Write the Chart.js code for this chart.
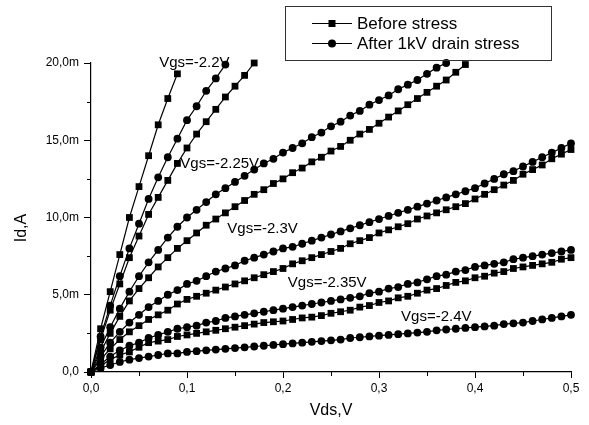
<!DOCTYPE html>
<html>
<head>
<meta charset="utf-8">
<script src="https://cdn.jsdelivr.net/npm/chart.js@4.4.0/dist/chart.umd.min.js"></script>
<style>
  html, body { margin: 0; padding: 0; background: #fff; }
</style>
</head>
<body>
<canvas id="chart" width="589" height="425"></canvas>
<script>
// drain voltage steps, V
const vds = [0, 0.01, 0.02, 0.03, 0.04, 0.05, 0.06, 0.07, 0.08, 0.09,
  0.10, 0.11, 0.12, 0.13, 0.14, 0.15, 0.16, 0.17, 0.18, 0.19,
  0.20, 0.21, 0.22, 0.23, 0.24, 0.25, 0.26, 0.27, 0.28, 0.29,
  0.30, 0.31, 0.32, 0.33, 0.34, 0.35, 0.36, 0.37, 0.38, 0.39,
  0.40, 0.41, 0.42, 0.43, 0.44, 0.45, 0.46, 0.47, 0.48, 0.49, 0.50]

// drain current, mA (curves stop at the 20 mA limit)
const before220 = [0, 2.8, 5.2, 7.6, 10.0, 12.0, 14.0, 16.0, 17.7, 19.3]
const after220 = [0, 2.3, 4.3, 6.2, 8.0, 9.6, 11.2, 12.6, 13.9, 15.1, 16.3, 17.2, 18.2, 19.0, 19.9]
const before225 = [0, 2.1, 4.0, 5.7, 7.4, 8.8, 10.2, 11.3, 12.4, 13.5, 14.5, 15.4, 16.2, 17.0, 17.8, 18.5, 19.2, 20.0]
const after225 = [0, 1.6, 2.9, 4.1, 5.2, 6.2, 7.1, 7.9, 8.7, 9.4, 10.0, 10.5, 11.0, 11.5, 11.9, 12.3, 12.7, 13.1, 13.5, 13.8,
  14.2, 14.5, 14.8, 15.2, 15.5, 15.9, 16.2, 16.6, 16.9, 17.3, 17.6, 17.9, 18.3, 18.6, 18.9, 19.3, 19.7, 20.0]
const before230 = [0, 1.3, 2.5, 3.6, 4.6, 5.4, 6.1, 6.8, 7.4, 8.0, 8.5, 9.0, 9.5, 9.9, 10.3, 10.7, 11.1, 11.5, 11.8, 12.2,
  12.5, 12.9, 13.2, 13.6, 13.9, 14.3, 14.6, 15.0, 15.4, 15.7, 16.1, 16.5, 16.9, 17.3, 17.7, 18.1, 18.5, 18.9, 19.4, 19.9]
const after230 = [0, 1.0, 1.9, 2.6, 3.2, 3.7, 4.2, 4.6, 5.0, 5.3, 5.7, 5.9, 6.2, 6.5, 6.7, 6.9, 7.2, 7.4, 7.6, 7.8,
  8.0, 8.1, 8.3, 8.5, 8.7, 8.9, 9.1, 9.3, 9.5, 9.7, 9.9, 10.1, 10.3, 10.5, 10.7, 10.9, 11.1, 11.3, 11.5, 11.7,
  11.9, 12.2, 12.5, 12.8, 13.0, 13.3, 13.6, 13.9, 14.2, 14.5, 14.8]
const before235 = [0, 0.8, 1.5, 2.1, 2.6, 3.0, 3.4, 3.7, 4.0, 4.4, 4.7, 4.9, 5.1, 5.3, 5.5, 5.7, 5.9, 6.1, 6.3, 6.5,
  6.7, 7.0, 7.2, 7.4, 7.6, 7.8, 8.0, 8.3, 8.5, 8.7, 9.0, 9.2, 9.4, 9.6, 9.9, 10.1, 10.3, 10.5, 10.7, 10.9,
  11.2, 11.5, 11.8, 12.1, 12.4, 12.8, 13.1, 13.4, 13.8, 14.1, 14.4]
const after235 = [0, 0.5, 1.0, 1.4, 1.7, 1.9, 2.2, 2.4, 2.6, 2.8, 2.9, 3.0, 3.2, 3.3, 3.5, 3.6, 3.7, 3.8, 3.9, 4.0,
  4.1, 4.2, 4.3, 4.4, 4.5, 4.6, 4.7, 4.8, 4.9, 5.1, 5.2, 5.4, 5.5, 5.7, 5.8, 6.0, 6.2, 6.3, 6.5, 6.6,
  6.8, 6.9, 7.0, 7.1, 7.3, 7.4, 7.5, 7.6, 7.7, 7.8, 7.9]
const before240 = [0, 0.4, 0.8, 1.1, 1.3, 1.6, 1.9, 2.0, 2.1, 2.3, 2.4, 2.5, 2.6, 2.7, 2.8, 2.9, 3.0, 3.1, 3.2, 3.25,
  3.3, 3.4, 3.5, 3.55, 3.65, 3.8, 3.9, 4.0, 4.2, 4.3, 4.5, 4.6, 4.8, 4.9, 5.1, 5.3, 5.4, 5.6, 5.8, 5.9,
  6.1, 6.2, 6.4, 6.5, 6.7, 6.8, 6.9, 7.0, 7.1, 7.3, 7.4]
const after240 = [0, 0.25, 0.45, 0.65, 0.8, 0.9, 1.0, 1.1, 1.2, 1.2, 1.3, 1.35, 1.4, 1.45, 1.5, 1.55, 1.6, 1.65, 1.7, 1.75,
  1.8, 1.85, 1.9, 1.95, 2.0, 2.05, 2.1, 2.2, 2.25, 2.3, 2.35, 2.4, 2.45, 2.5, 2.55, 2.6, 2.7, 2.75, 2.8, 2.85,
  2.9, 2.95, 3.0, 3.1, 3.15, 3.2, 3.3, 3.4, 3.5, 3.6, 3.7]

const legendNames = ['Before stress', 'After 1kV drain stress']
const vgsNames = ['Vgs=-2.2V', 'Vgs=-2.25V', 'Vgs=-2.3V', 'Vgs=-2.35V', 'Vgs=-2.4V']
// where each Vgs note sits, in axis units (V, mA)
const vgsNoteX = [0.071, 0.093, 0.142, 0.205, 0.323]
const vgsNoteY = [20.0, 13.5, 9.27, 5.78, 3.59]

const xTicks = [0, 0.1, 0.2, 0.3, 0.4, 0.5]
const xMinor = [0.05, 0.15, 0.25, 0.35, 0.45]
const yMinor = [2.5, 7.5, 12.5, 17.5]

const FONT = "'Liberation Sans', Arial, sans-serif"

function fmt (v) {
  return v.toFixed(1).replace('.', ',')
}

function curve (values, before) {
  return {
    data: values.map((v, i) => ({ x: vds[i], y: v })),
    borderColor: '#000',
    borderWidth: 1.2,
    backgroundColor: '#000',
    pointStyle: before ? 'rect' : 'circle',
    pointRadius: before ? 4.8 : 3.9,
    pointBorderWidth: 0,
    pointBackgroundColor: '#000',
    tension: 0,
    clip: false
  }
}

const extras = {
  id: 'extras',
  afterDraw (chart) {
    const ctx = chart.ctx
    const x = chart.scales.x
    const y = chart.scales.y
    const area = chart.chartArea
    ctx.save()
    ctx.strokeStyle = '#000'
    ctx.lineWidth = 1

    // minor ticks
    ctx.beginPath()
    yMinor.forEach(v => {
      const py = Math.round(y.getPixelForValue(v)) + 0.5
      ctx.moveTo(area.left - 4, py)
      ctx.lineTo(area.left, py)
    })
    xMinor.forEach(v => {
      const px = Math.round(x.getPixelForValue(v)) + 0.5
      ctx.moveTo(px, area.bottom)
      ctx.lineTo(px, area.bottom + 4)
    })
    ctx.stroke()

    // Vgs notes
    ctx.fillStyle = '#000'
    ctx.font = '15px ' + FONT
    ctx.textBaseline = 'middle'
    ctx.textAlign = 'left'
    vgsNames.forEach((t, i) => {
      ctx.fillText(t, x.getPixelForValue(vgsNoteX[i]), y.getPixelForValue(vgsNoteY[i]))
    })

    // axis titles
    ctx.font = '16px ' + FONT
    ctx.textAlign = 'center'
    ctx.fillText('Vds,V', (area.left + area.right) / 2, 411)
    ctx.save()
    ctx.translate(22, 228)
    ctx.rotate(-Math.PI / 2)
    ctx.fillText('Id,A', 0, 0)
    ctx.restore()

    // legend box
    ctx.strokeStyle = '#333'
    ctx.strokeRect(285.5, 6.5, 266, 54)
    ctx.strokeStyle = '#000'
    ctx.font = '17px ' + FONT
    ctx.textAlign = 'left'
    legendNames.forEach((t, i) => {
      const ly = 23 + i * 20
      ctx.beginPath()
      ctx.moveTo(312, ly + 0.5)
      ctx.lineTo(352, ly + 0.5)
      ctx.stroke()
      ctx.beginPath()
      if (i === 0) {
        ctx.rect(328.5, ly - 3, 7, 7)
      } else {
        ctx.arc(332, ly + 0.5, 4, 0, Math.PI * 2)
      }
      ctx.fill()
      ctx.fillText(t, 357, ly + 1)
    })
    ctx.restore()
  }
}

new Chart(document.getElementById('chart'), {
  type: 'line',
  data: {
    datasets: [
      curve(before220, true), curve(after220, false),
      curve(before225, true), curve(after225, false),
      curve(before230, true), curve(after230, false),
      curve(before235, true), curve(after235, false),
      curve(before240, true), curve(after240, false)
    ]
  },
  options: {
    responsive: false,
    animation: false,
    devicePixelRatio: 1,
    layout: { padding: { top: 63, right: 18, left: 0, bottom: 0 } },
    plugins: { legend: { display: false }, tooltip: { enabled: false } },
    scales: {
      x: {
        type: 'linear',
        min: 0,
        max: 0.5,
        afterFit (s) { s.height = 53 },
        afterBuildTicks (s) { s.ticks = xTicks.map(v => ({ value: v })) },
        border: { display: true, color: '#000', width: 1.2 },
        grid: { drawOnChartArea: false, drawTicks: true, tickLength: 6, color: '#000' },
        ticks: {
          color: '#000',
          padding: 3,
          maxRotation: 0,
          font: { family: FONT, size: 12 },
          callback: v => fmt(v)
        }
      },
      y: {
        min: 0,
        max: 20,
        afterFit (s) { s.width = 91 },
        border: { display: true, color: '#000', width: 1.2 },
        grid: { drawOnChartArea: false, drawTicks: true, tickLength: 7, color: '#000' },
        ticks: {
          color: '#000',
          stepSize: 5,
          padding: 5,
          font: { family: FONT, size: 12 },
          callback: v => v === 0 ? '0,0' : fmt(v) + 'm'
        }
      }
    }
  },
  plugins: [extras]
})
</script>
</body>
</html>
